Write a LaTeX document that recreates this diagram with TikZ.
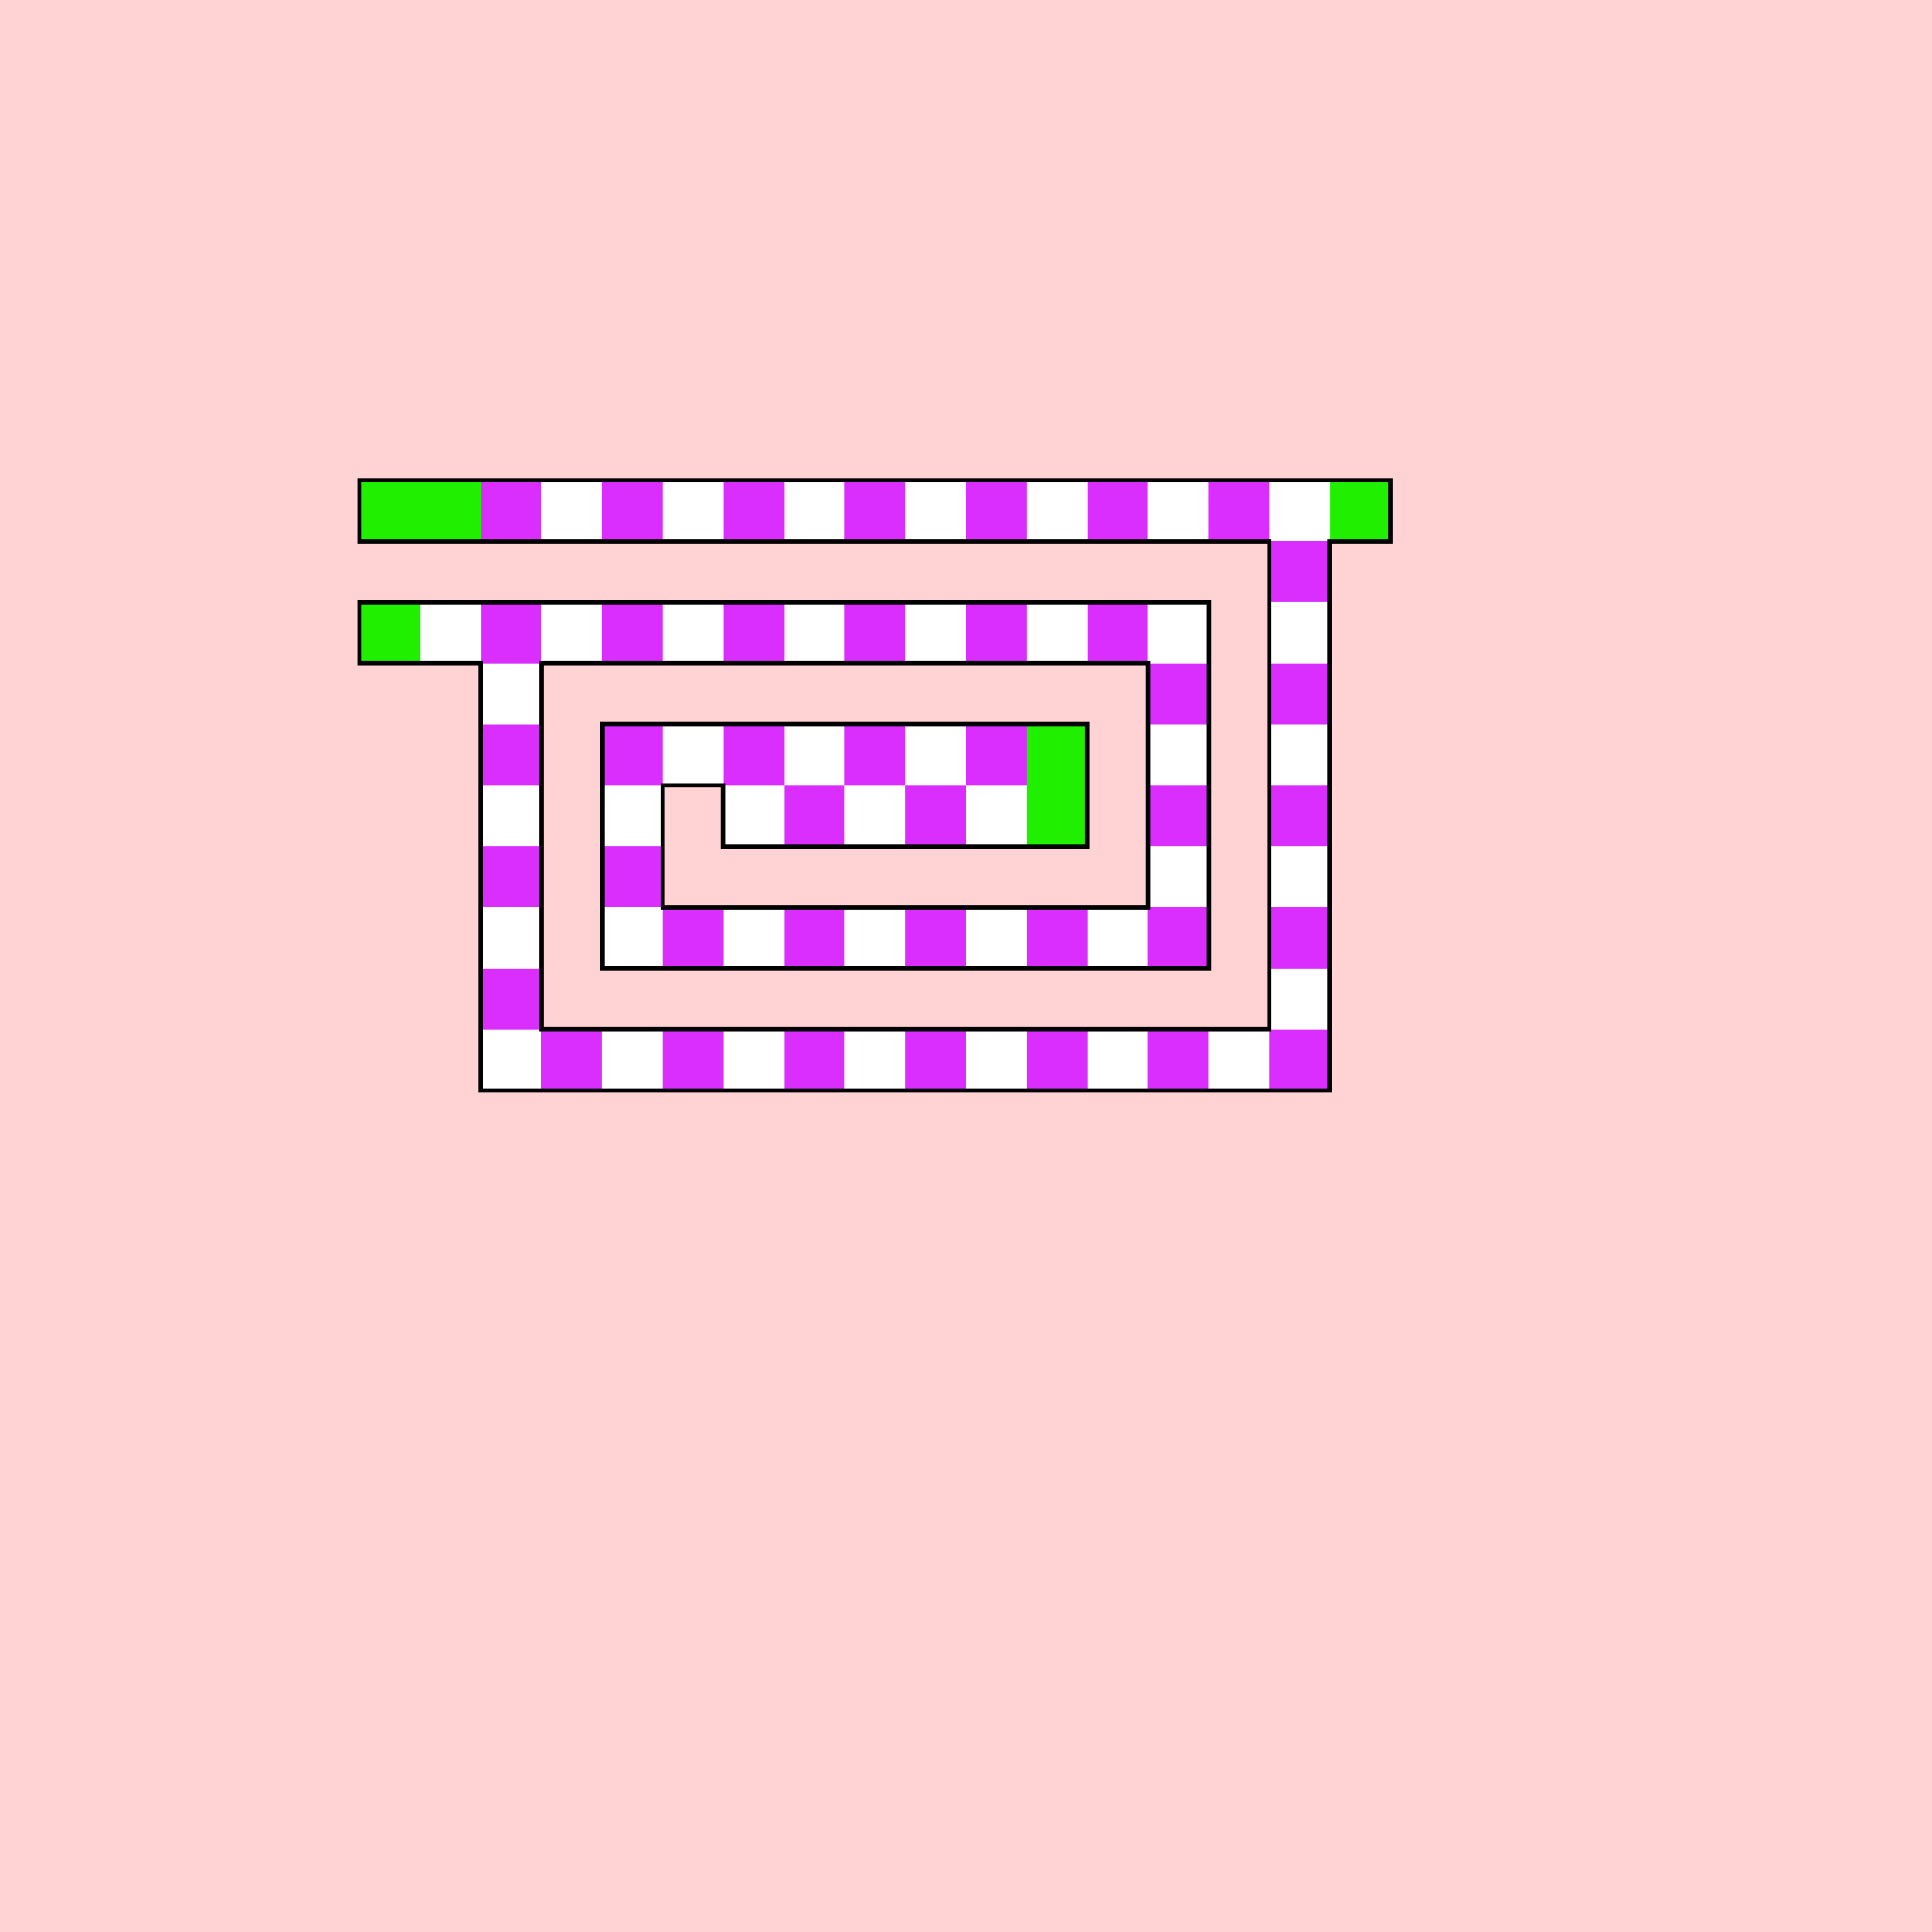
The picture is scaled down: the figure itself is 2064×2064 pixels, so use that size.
\documentclass[tikz,border=0pt]{standalone}
\definecolor{bgpink}{RGB}{255,210,211}
\definecolor{mag}{RGB}{218,46,255}
\definecolor{grn}{RGB}{32,240,0}
\tikzset{
  cellfill/.style={fill=mag},
  outline/.style={draw=black,line width=2.4pt,line join=miter}
}
\begin{document}
\begin{tikzpicture}[x=0.5pt,y=-0.5pt]
\fill[bgpink] (0,0) rectangle (2064,2064);
\useasboundingbox (0,0) rectangle (2064,2064);
\begin{scope}[shift={(192pt,-256.5pt)},x=32.4pt,y=-32.6pt]
  % white strip
  \fill[white] (0,0) -- (17,0) -- (17,1) -- (16,1) -- (16,10) -- (2,10) -- (2,3) -- (0,3) -- (0,2) -- (14,2) -- (14,8) -- (4,8) -- (4,4) -- (12,4) -- (12,6) -- (6,6) -- (6,5) -- (5,5) -- (5,7) -- (13,7) -- (13,3) -- (3,3) -- (3,9) -- (15,9) -- (15,1) -- (0,1) -- cycle;
  % magenta cells (checkerboard along the strip)
  \foreach \ca/\cb/\ra/\rb in {0/16/0/0, 15/15/1/9, 2/14/9/9, 2/2/3/8, 0/13/2/2, 13/13/3/7, 4/12/7/7, 4/4/4/6, 5/11/4/4, 6/11/5/5} {
    \foreach \c in {\ca,...,\cb} {
      \foreach \r in {\ra,...,\rb} {
        \pgfmathtruncatemacro\cpar{mod(\c+\r,2)}
        \ifnum\cpar=0 \fill[cellfill] (\c,\r) rectangle ++(1,1); \fi
      }
    }
  }
  % green cells
  \fill[grn] (0,0) rectangle (2,1);
  \fill[grn] (16,0) rectangle (17,1);
  \fill[grn] (0,2) rectangle (1,3);
  \fill[grn] (11,4) rectangle (12,6);
  % outline
  \draw[outline] (0,0) -- (17,0) -- (17,1) -- (16,1) -- (16,10) -- (2,10) -- (2,3) -- (0,3) -- (0,2) -- (14,2) -- (14,8) -- (4,8) -- (4,4) -- (12,4) -- (12,6) -- (6,6) -- (6,5) -- (5,5) -- (5,7) -- (13,7) -- (13,3) -- (3,3) -- (3,9) -- (15,9) -- (15,1) -- (0,1) -- cycle;
\end{scope}
\end{tikzpicture}
\end{document}
